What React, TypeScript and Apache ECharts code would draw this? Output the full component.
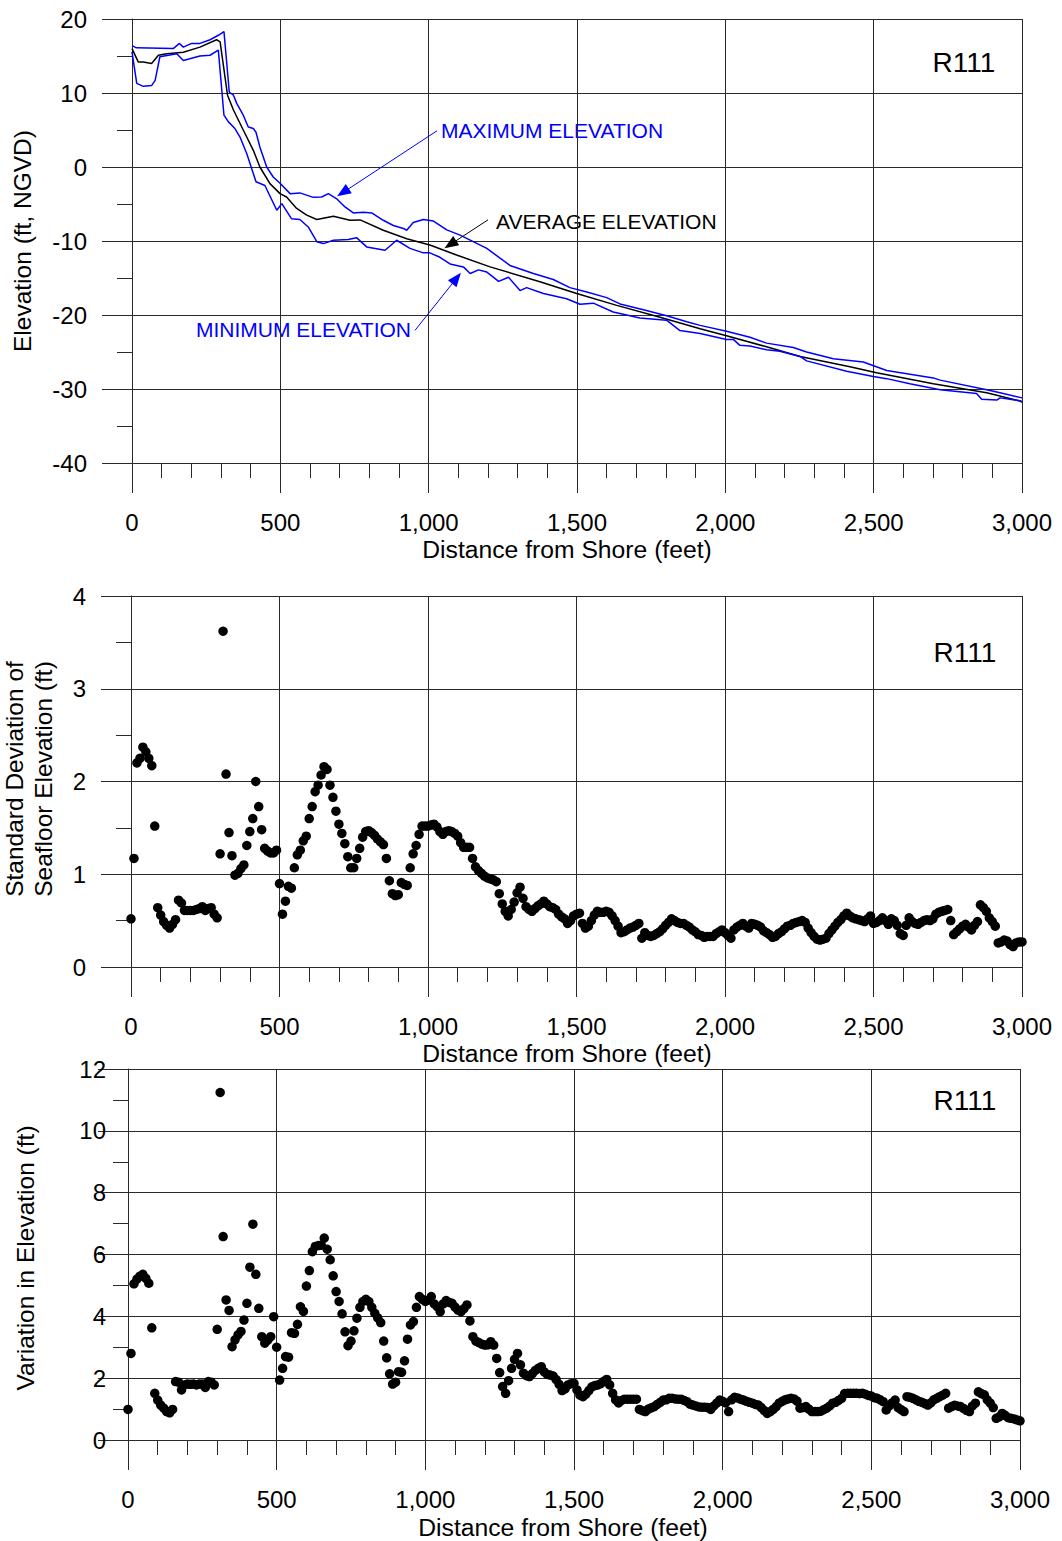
import React, { useEffect, useRef } from "react";
import * as echarts from "echarts";

const FONT = '"Liberation Sans", Arial, Helvetica, sans-serif';
const BLUE = "#0000ff";
const GRID_COLOR = "#2a2a2a";

// Distance from shore (feet) for the sampled statistics
const distances: number[] = Array.from({ length: 301 }, (_, i) => i * 10);

// Panel 1: elevation profiles [distance ft, elevation ft NGVD]
const maxElevation: [number, number][] = [
  [0, 16.4], [15, 16.1], [139, 16.0], [160, 16.7], [173, 16.2], [201, 16.7], [229, 16.7], [263, 17.2],
  [291, 17.8], [310, 18.3], [328, 10.1], [342, 9.7], [353, 8.6], [375, 7.0], [392, 5.4], [409, 5.2],
  [418, 4.7], [431, 2.7], [454, 0], [476, -1.35], [499, -2.2], [533, -3.6], [566, -3.5], [611, -4.1],
  [639, -4.05], [662, -3.6], [690, -4.3], [718, -5.4], [746, -6.2], [780, -6.1], [808, -6.2], [847, -7.2],
  [881, -7.9], [915, -8.3], [926, -8.55], [948, -7.5], [982, -7.1], [1016, -7.3], [1061, -8.5], [1106, -9.2],
  [1196, -11.0], [1274, -13.3], [1353, -14.4], [1420, -15.2], [1476, -16.3], [1533, -16.9], [1600, -17.65],
  [1645, -18.5], [1724, -19.3], [1802, -20.1], [1870, -20.9], [1915, -21.4], [2004, -22.2], [2083, -23.0],
  [2139, -23.8], [2229, -24.4], [2274, -25.0], [2364, -25.9], [2465, -26.35], [2544, -27.5], [2701, -28.5],
  [2724, -28.8], [2881, -30.1], [2926, -30.5], [3000, -31.2],
];

const avgElevation: [number, number][] = [
  [0, 16.0], [21, 14.2], [38, 14.2], [66, 14.0], [89, 15.1], [117, 15.3], [173, 15.5], [229, 16.2],
  [285, 17.2], [297, 16.9], [322, 9.7], [342, 7.7], [375, 5.0], [409, 2.25], [431, 0], [465, -2.25],
  [499, -3.6], [521, -4.05], [555, -5.6], [589, -6.5], [623, -7.1], [679, -6.65], [735, -7.2], [769, -7.15],
  [847, -8.55], [926, -9.7], [1004, -10.55], [1094, -11.9], [1207, -13.5], [1375, -15.5], [1499, -17.1],
  [1634, -18.7], [1780, -20.3], [1915, -21.85], [2004, -22.8], [2139, -24.3], [2252, -25.6], [2420, -27.0],
  [2510, -27.8], [2701, -29.3], [2881, -30.5], [3000, -31.7],
];

const minElevation: [number, number][] = [
  [0, 15.55], [16, 11.3], [38, 10.9], [66, 11.0], [78, 11.7], [94, 14.9], [151, 15.3], [173, 14.4],
  [229, 15.0], [263, 15.1], [291, 15.8], [310, 7.0], [325, 6.1], [347, 5.2], [364, 4.05], [387, 1.8],
  [418, -2.0], [448, -2.5], [488, -5.85], [505, -4.95], [538, -7.0], [566, -7.1], [594, -8.1], [623, -10.1],
  [645, -10.35], [679, -9.9], [729, -9.8], [757, -9.55], [791, -10.8], [853, -11.25], [892, -9.9], [937, -11.0],
  [982, -11.6], [1004, -11.6], [1038, -12.2], [1072, -13.1], [1117, -13.5], [1140, -14.4], [1168, -13.9],
  [1196, -14.2], [1236, -15.45], [1269, -14.9], [1308, -16.7], [1330, -16.3], [1387, -17.1], [1465, -17.8],
  [1510, -18.55], [1555, -18.4], [1622, -19.6], [1712, -20.4], [1802, -20.7], [1847, -22.1], [1915, -22.5],
  [2004, -23.3], [2027, -23.3], [2049, -24.1], [2083, -24.2], [2139, -24.7], [2184, -24.9], [2252, -25.6],
  [2274, -26.2], [2409, -27.6], [2499, -28.3], [2544, -28.6], [2622, -29.3], [2724, -30.1], [2847, -30.6],
  [2864, -31.4], [2915, -31.5], [2926, -31.2], [2993, -31.6], [3000, -31.8],
];

// Panel 2: standard deviation of seafloor elevation (ft), every 10 ft
const stdDev: number[] = [
  0.52, 1.17, 2.2, 2.25, 2.37, 2.32, 2.25, 2.17, 1.52, 0.64,
  0.56, 0.49, 0.45, 0.42, 0.46, 0.51, 0.72, 0.69, 0.61, 0.61,
  0.61, 0.61, 0.62, 0.63, 0.65, 0.61, 0.63, 0.64, 0.57, 0.53,
  1.22, 3.62, 2.08, 1.45, 1.2, 0.99, 1.01, 1.06, 1.1, 1.31,
  1.46, 1.6, 2.0, 1.73, 1.48, 1.28, 1.25, 1.23, 1.23, 1.26,
  0.9, 0.57, 0.71, 0.87, 0.85, 1.07, 1.21, 1.26, 1.36, 1.41,
  1.6, 1.73, 1.89, 1.96, 2.07, 2.16, 2.13, 1.96, 1.83, 1.68,
  1.54, 1.44, 1.33, 1.19, 1.07, 1.07, 1.17, 1.28, 1.4, 1.46,
  1.47, 1.45, 1.42, 1.38, 1.35, 1.32, 1.17, 0.93, 0.79, 0.77,
  0.78, 0.91, 0.89, 0.88, 1.07, 1.22, 1.31, 1.43, 1.52, 1.52,
  1.52, 1.53, 1.54, 1.51, 1.46, 1.43, 1.46, 1.47, 1.46, 1.44,
  1.41, 1.34, 1.29, 1.29, 1.29, 1.17, 1.08, 1.04, 1.01, 0.98,
  0.96, 0.95, 0.94, 0.92, 0.79, 0.68, 0.6, 0.55, 0.62, 0.7,
  0.8, 0.86, 0.74, 0.65, 0.62, 0.6, 0.63, 0.66, 0.68, 0.71,
  0.68, 0.65, 0.64, 0.62, 0.57, 0.54, 0.52, 0.47, 0.5, 0.55,
  0.57, 0.58, 0.47, 0.42, 0.44, 0.5, 0.56, 0.6, 0.59, 0.59,
  0.6, 0.59, 0.55, 0.5, 0.44, 0.37, 0.38, 0.4, 0.42, 0.43,
  0.45, 0.47, 0.31, 0.37, 0.34, 0.33, 0.34, 0.36, 0.38, 0.41,
  0.45, 0.48, 0.52, 0.5, 0.48, 0.47, 0.47, 0.45, 0.43, 0.4,
  0.38, 0.35, 0.34, 0.32, 0.33, 0.33, 0.33, 0.36, 0.38, 0.4,
  0.37, 0.34, 0.31, 0.4, 0.43, 0.45, 0.47, 0.44, 0.42, 0.47,
  0.46, 0.45, 0.43, 0.39, 0.37, 0.35, 0.32, 0.33, 0.36, 0.38,
  0.41, 0.44, 0.45, 0.47, 0.48, 0.49, 0.5, 0.48, 0.42, 0.37,
  0.33, 0.3, 0.29, 0.3, 0.31, 0.36, 0.4, 0.44, 0.48, 0.51,
  0.55, 0.58, 0.55, 0.53, 0.52, 0.51, 0.5, 0.49, 0.52, 0.55,
  0.47, 0.48, 0.5, 0.53, 0.5, 0.46, 0.52, 0.5, 0.45, 0.36,
  0.34, 0.45, 0.53, 0.49, 0.47, 0.46, 0.48, 0.5, 0.51, 0.5,
  0.52, 0.57, 0.59, 0.6, 0.61, 0.62, 0.5, 0.35, 0.38, 0.41,
  0.44, 0.46, 0.43, 0.4, 0.45, 0.49, 0.67, 0.64, 0.6, 0.53,
  0.49, 0.44, 0.26, 0.27, 0.29, 0.28, 0.24, 0.22, 0.26, 0.27,
  0.27,
];

// Panel 3: variation in elevation (ft), every 10 ft
const variation: number[] = [
  0.99, 2.8, 5.05, 5.2, 5.3, 5.36, 5.23, 5.07, 3.63, 1.51,
  1.29, 1.13, 1.03, 0.92, 0.88, 0.99, 1.89, 1.87, 1.62, 1.78,
  1.81, 1.8, 1.81, 1.78, 1.81, 1.81, 1.7, 1.89, 1.87, 1.78,
  3.58, 11.24, 6.58, 4.53, 4.19, 3.02, 3.24, 3.4, 3.51, 3.88,
  4.42, 5.59, 6.98, 5.36, 4.26, 3.34, 3.13, 3.23, 3.34, 3.99,
  3.0, 1.94, 2.32, 2.7, 2.68, 3.47, 3.45, 3.74, 4.31, 4.16,
  4.98, 5.48, 6.09, 6.26, 6.29, 6.3, 6.53, 6.17, 5.83, 5.31,
  4.8, 4.48, 4.08, 3.5, 3.05, 3.2, 3.53, 3.94, 4.29, 4.48,
  4.55, 4.48, 4.29, 4.1, 3.95, 3.8, 3.2, 2.66, 2.14, 1.81,
  1.87, 2.21, 2.19, 2.56, 3.26, 3.72, 3.83, 4.29, 4.64, 4.55,
  4.48, 4.52, 4.64, 4.4, 4.31, 4.15, 4.4, 4.51, 4.45, 4.42,
  4.3, 4.2, 4.15, 4.25, 4.37, 3.85, 3.34, 3.2, 3.15, 3.1,
  3.07, 3.08, 3.18, 3.07, 2.64, 2.18, 1.73, 1.51, 1.92, 2.32,
  2.61, 2.8, 2.43, 2.16, 2.08, 2.05, 2.15, 2.25, 2.32, 2.37,
  2.2, 2.12, 2.1, 2.07, 1.95, 1.8, 1.6, 1.65, 1.78, 1.82,
  1.83, 1.62, 1.45, 1.4, 1.48, 1.6, 1.72, 1.76, 1.78, 1.82,
  1.9, 1.96, 1.78, 1.51, 1.3, 1.2, 1.28, 1.32, 1.32, 1.32,
  1.32, 1.32, 0.99, 0.95, 0.92, 1.0, 1.04, 1.08, 1.15, 1.22,
  1.29, 1.3, 1.35, 1.35, 1.33, 1.32, 1.32, 1.28, 1.24, 1.16,
  1.13, 1.1, 1.07, 1.06, 1.06, 1.05, 0.99, 1.1, 1.19, 1.29,
  1.25, 1.2, 0.92, 1.3, 1.38, 1.36, 1.32, 1.29, 1.25, 1.22,
  1.19, 1.15, 1.13, 1.05, 0.95, 0.86, 0.92, 0.99, 1.08, 1.19,
  1.25, 1.3, 1.33, 1.35, 1.33, 1.26, 1.03, 1.05, 1.08, 1.0,
  0.92, 0.92, 0.92, 0.93, 0.98, 1.03, 1.1, 1.19, 1.22, 1.28,
  1.35, 1.5, 1.51, 1.51, 1.51, 1.51, 1.5, 1.51, 1.48, 1.44,
  1.42, 1.37, 1.35, 1.3, 1.24, 0.97, 1.1, 1.2, 1.29, 1.05,
  0.98, 0.92, 1.4, 1.38, 1.35, 1.3, 1.25, 1.22, 1.18, 1.13,
  1.2, 1.3, 1.35, 1.4, 1.45, 1.51, 1.03, 1.08, 1.12, 1.1,
  1.08, 1.02, 0.96, 0.92, 1.1, 1.19, 1.56, 1.5, 1.46, 1.3,
  1.19, 1.05, 0.7, 0.75, 0.86, 0.8, 0.72, 0.7, 0.68, 0.65,
  0.62,
];

// Axis settings
const xRange = { min: 0, max: 3000, interval: 500 };
const yRanges = [
  { min: -40, max: 20, interval: 10 },
  { min: 0, max: 4, interval: 1 },
  { min: 0, max: 12, interval: 2 },
];

const profileLabel = "R111";
const xTitle = "Distance from Shore (feet)";
const yTitles = ["Elevation (ft, NGVD)", "Standard Deviation of\nSeafloor Elevation (ft)", "Variation in Elevation (ft)"];

// Annotation arrows, in data coordinates: [start, arrow head]
const maxArrow: [number, number][] = [[1028, 4.89], [711, -3.45]];
const avgArrow: [number, number][] = [[1200, -7.14], [1073, -10.47]];
const minArrow: [number, number][] = [[954, -22.07], [1094, -15.04]];

const TICK_FONT = 24;

function xAxis(gridIndex: number) {
  return {
    type: "value",
    gridIndex,
    ...xRange,
    axisLine: { show: true, onZero: false, lineStyle: { color: GRID_COLOR, width: 1 } },
    axisTick: { show: true, inside: false, length: 30, lineStyle: { color: GRID_COLOR, width: 1 } },
    minorTick: { show: true, splitNumber: 5, length: 15, lineStyle: { color: GRID_COLOR, width: 1 } },
    splitLine: { show: true, lineStyle: { color: GRID_COLOR, width: 1 } },
    minorSplitLine: { show: false },
    axisLabel: {
      margin: 47,
      fontSize: TICK_FONT,
      color: "#000",
      fontFamily: FONT,
      formatter: (v: number) => v.toLocaleString("en-US"),
    },
  };
}

function yAxis(gridIndex: number, margin: number) {
  return {
    type: "value",
    gridIndex,
    ...yRanges[gridIndex],
    axisLine: { show: true, onZero: false, lineStyle: { color: GRID_COLOR, width: 1 } },
    axisTick: { show: true, inside: false, length: 30, lineStyle: { color: GRID_COLOR, width: 1 } },
    minorTick: { show: true, splitNumber: 2, length: 15, lineStyle: { color: GRID_COLOR, width: 1 } },
    splitLine: { show: true, lineStyle: { color: GRID_COLOR, width: 1 } },
    axisLabel: { margin, fontSize: TICK_FONT, color: "#000", fontFamily: FONT },
  };
}

function arrowLine(pts: [number, number][], color: string) {
  return {
    silent: true,
    symbol: ["none", "triangle"],
    symbolSize: [11, 14],
    lineStyle: { color, width: 1, type: "solid" },
    itemStyle: { color },
    label: { show: false },
    emphasis: { disabled: true },
    data: [[{ coord: pts[0] }, { coord: pts[1] }]],
  };
}

function txt(
  text: string,
  x: number,
  y: number,
  fontSize: number,
  opts: { align?: string; fill?: string; rotation?: number; lineHeight?: number } = {}
) {
  return {
    type: "text",
    x,
    y,
    rotation: opts.rotation ?? 0,
    silent: true,
    style: {
      text,
      fontSize,
      fontFamily: FONT,
      fill: opts.fill ?? "#000",
      align: opts.align ?? "center",
      verticalAlign: "middle",
      lineHeight: opts.lineHeight,
    },
  };
}

export default function App() {
  const ref = useRef<HTMLDivElement>(null);

  useEffect(() => {
    document.body.style.margin = "0";
    if (!ref.current) return;
    const chart = echarts.init(ref.current, undefined, { renderer: "svg" });
    const rot = Math.PI / 2;
    const dot = { color: "#000", opacity: 1 };
    chart.setOption({
      animation: false,
      backgroundColor: "#fff",
      grid: [
        { left: 132, top: 19, width: 890, height: 444 },
        { left: 131, top: 596, width: 891, height: 371 },
        { left: 128, top: 1069, width: 892, height: 371 },
      ],
      xAxis: [xAxis(0), xAxis(1), xAxis(2)],
      yAxis: [yAxis(0, 45), yAxis(1, 45), yAxis(2, 22)],
      series: [
        {
          name: "Maximum Elevation",
          type: "line",
          xAxisIndex: 0,
          yAxisIndex: 0,
          data: maxElevation,
          showSymbol: false,
          lineStyle: { color: BLUE, width: 1.5 },
          itemStyle: { color: BLUE },
          markLine: arrowLine(maxArrow, BLUE),
        },
        {
          name: "Average Elevation",
          type: "line",
          xAxisIndex: 0,
          yAxisIndex: 0,
          data: avgElevation,
          showSymbol: false,
          lineStyle: { color: "#000", width: 1.5 },
          itemStyle: { color: "#000" },
          markLine: arrowLine(avgArrow, "#000"),
        },
        {
          name: "Minimum Elevation",
          type: "line",
          xAxisIndex: 0,
          yAxisIndex: 0,
          data: minElevation,
          showSymbol: false,
          lineStyle: { color: BLUE, width: 1.5 },
          itemStyle: { color: BLUE },
          markLine: arrowLine(minArrow, BLUE),
        },
        {
          name: "Standard Deviation",
          type: "scatter",
          xAxisIndex: 1,
          yAxisIndex: 1,
          data: distances.map((d, i) => [d, stdDev[i]]),
          symbolSize: 9.5,
          itemStyle: dot,
        },
        {
          name: "Variation",
          type: "scatter",
          xAxisIndex: 2,
          yAxisIndex: 2,
          data: distances.map((d, i) => [d, variation[i]]),
          symbolSize: 9.5,
          itemStyle: dot,
        },
      ],
      graphic: [
        txt(profileLabel, 964, 62, 28),
        txt(profileLabel, 965, 652, 28),
        txt(profileLabel, 965, 1100, 28),
        txt(xTitle, 567, 549, 24.7),
        txt(xTitle, 567, 1053, 24.7),
        txt(xTitle, 563, 1527, 24.7),
        txt(yTitles[0], 22, 241, 24.5, { rotation: rot }),
        txt(yTitles[1], 29, 779, 24.5, { rotation: rot, lineHeight: 29 }),
        txt(yTitles[2], 25, 1258, 24.5, { rotation: rot }),
        txt("MAXIMUM ELEVATION", 441, 130, 21, { align: "left", fill: BLUE }),
        txt("AVERAGE ELEVATION", 496, 221, 21, { align: "left" }),
        txt("MINIMUM ELEVATION", 411, 329, 21, { align: "right", fill: BLUE }),
      ],
    });
    return () => chart.dispose();
  }, []);

  return (
    <div
      ref={ref}
      style={{ position: "absolute", left: 0, top: 0, width: 1062, height: 1541, background: "#fff" }}
    />
  );
}
